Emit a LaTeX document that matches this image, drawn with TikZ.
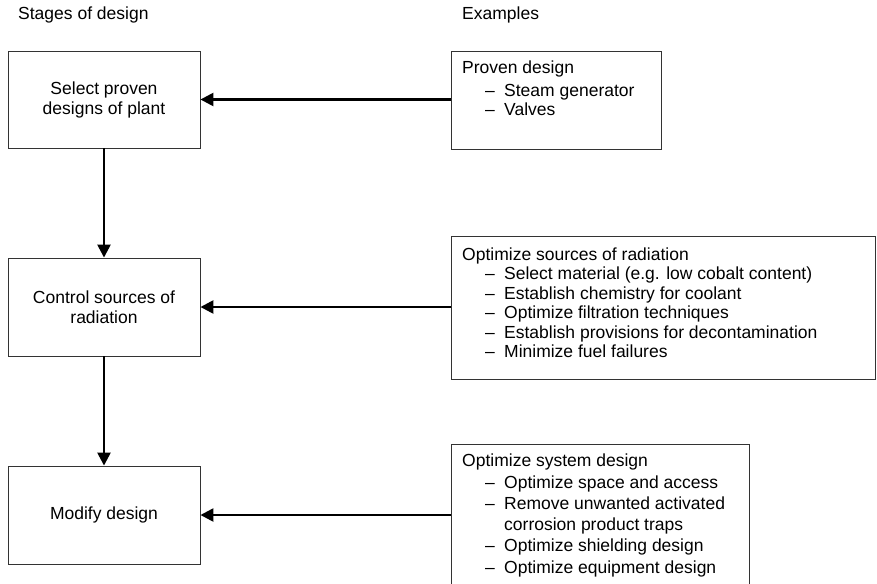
\documentclass[tikz,border=0pt]{standalone}
\usepackage{fontspec}
\setmainfont{Liberation Sans}
\usetikzlibrary{arrows.meta}
\newcommand\diagfont{\fontsize{17.5}{20}\selectfont}
\tikzset{
  stagebox/.style={draw=black!80, line width=0.9pt, minimum width=192pt,
    inner sep=0pt, align=center, font=\diagfont},
  examplebox/.style={draw=black!80, line width=0.9pt, inner sep=0pt},
  line/.style={anchor=base west, inner sep=0pt, font=\diagfont},
  flow/.style={line width=2.5pt, -{Triangle[length=13pt,width=13pt]}},
}
\begin{document}
\begin{tikzpicture}[x=1pt,y=-1pt]
\useasboundingbox (0,0) rectangle (877,583);
\clip (0,0) rectangle (877,583);

% column headings
\node[line] (hstages) at (18,20) {Stages of design};
\node[line] (hexamples) at (462,20) {Examples};

% stages of design
\node[stagebox, minimum height=97pt] (st1) at (104,99.5) {Select proven\\designs of plant};
\node[stagebox, minimum height=98pt] (st2) at (104,307) {Control sources of\\radiation};
\node[stagebox, minimum height=98pt] (st3) at (104,515) {Modify design};

% example boxes
\node[examplebox, minimum width=210pt, minimum height=98pt] (ex1) at (556.7,100) {};
\node[examplebox, minimum width=423.3pt, minimum height=143pt] (ex2) at (663.3,307.5) {};
\node[examplebox, minimum width=297.3pt, minimum height=160pt] (ex3) at (600.3,524) {};

% example texts
\node[line] (e1t) at (462,74) {Proven design};
\node[line] (e1d1) at (485,96) {–};
\node[line] (e1a) at (504,96) {Steam generator};
\node[line] (e1d2) at (485,116) {–};
\node[line] (e1b) at (504,116) {Valves};

\node[line] (e2t) at (462,260) {Optimize sources of radiation};
\node[line] (e2d1) at (485,279.5) {–};
\node[line] (e2a) at (504,279.5) {Select material (e.g. low cobalt content)};
\node[line] (e2d2) at (485,299) {–};
\node[line] (e2b) at (504,299) {Establish chemistry for coolant};
\node[line] (e2d3) at (485,318.5) {–};
\node[line] (e2c) at (504,318.5) {Optimize filtration techniques};
\node[line] (e2d4) at (485,338) {–};
\node[line] (e2d) at (504,338) {Establish provisions for decontamination};
\node[line] (e2d5) at (485,357.5) {–};
\node[line] (e2e) at (504,357.5) {Minimize fuel failures};

\node[line] (e3t) at (462,466.7) {Optimize system design};
\node[line] (e3d1) at (485,488) {–};
\node[line] (e3a) at (504,488) {Optimize space and access};
\node[line] (e3d2) at (485,509.5) {–};
\node[line] (e3b) at (504,509.5) {Remove unwanted activated};
\node[line] (e3b2) at (504,530.5) {corrosion product traps};
\node[line] (e3d3) at (485,551.5) {–};
\node[line] (e3c) at (504,551.5) {Optimize shielding design};
\node[line] (e3d4) at (485,573) {–};
\node[line] (e3d) at (504,573) {Optimize equipment design};

% connectors
\draw[flow] (st1.south) -- (st2.north);
\draw[flow] (st2.south) -- (st3.north);
\draw[flow] (st1.east -| ex1.west) -- (st1.east);
\draw[flow] (st2.east -| ex2.west) -- (st2.east);
\draw[flow] (st3.east -| ex3.west) -- (st3.east);
\end{tikzpicture}
\end{document}
